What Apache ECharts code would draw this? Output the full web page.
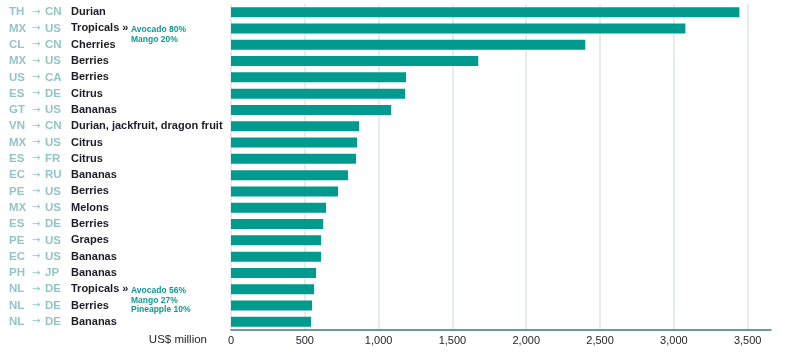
<!DOCTYPE html>
<html>
<head>
<meta charset="utf-8">
<script src="https://cdn.jsdelivr.net/npm/echarts@6/dist/echarts.min.js"></script>
<style>
html,body{margin:0;padding:0;background:#fff;}
#c{width:790px;height:357px;}
</style>
</head>
<body>
<div id="c"></div>
<script>
const origins = ['TH','MX','CL','MX','US','ES','GT','VN','MX','ES','EC','PE','MX','ES','PE','EC','PH','NL','NL','NL'];
const destinations = ['CN','US','CN','US','CA','DE','US','CN','US','FR','RU','US','US','DE','US','US','JP','DE','DE','DE'];
const products = ['Durian','Tropicals','Cherries','Berries','Berries','Citrus','Bananas','Durian, jackfruit, dragon fruit','Citrus','Citrus','Bananas','Berries','Melons','Berries','Grapes','Bananas','Bananas','Tropicals','Berries','Bananas'];
const values = [3444,3078,2400,1675,1186,1180,1085,868,854,847,793,725,644,624,610,610,576,563,549,542];
const xTicks = [0,500,1000,1500,2000,2500,3000,3500];
const annotationRows = [1, 17];
const annotationTexts = [['Avocado 80%','Mango 20%'],['Avocado 56%','Mango 27%','Pineapple 10%']];
const axisTitle = 'US$ million';

const categories = origins.map((o,i)=>i);
const FONT = '"Liberation Sans", Arial, Helvetica, sans-serif';
const chart = echarts.init(document.getElementById('c'), null, {renderer:'canvas'});
const option = {
  animation:false,
  backgroundColor:'#ffffff',
  grid:{left:231, right:19, top:4, bottom:27, containLabel:false},
  xAxis:{
    type:'value', min:0, max:3658, interval:500,
    axisLine:{show:true, lineStyle:{color:'#3d7a78', width:1.5}},
    axisTick:{show:false},
    axisLabel:{showMaxLabel:false, color:'#1e1e2a', fontSize:11, fontFamily:FONT, margin:5,
      formatter:v=> xTicks.includes(v) ? v.toLocaleString('en-US') : ''},
    splitLine:{show:true, showMaxLine:false, lineStyle:{color:'#dfe7e7', width:1.5}}
  },
  yAxis:{
    type:'category', inverse:true, data:categories,
    axisLine:{show:false}, axisTick:{show:false},
    axisLabel:{
      align:'left', margin:222, fontFamily:FONT, interval:0,
      formatter:(v,i)=>{
        let s = '{code|'+origins[i]+'}{arr|→}{code|'+destinations[i]+'}{prod|'+products[i]+'}';
        if (annotationRows.includes(i)) s += '{mark| »}';
        return s;
      },
      rich:{
        code:{color:'#93c5c7', fontSize:11.5, fontWeight:'bold', fontFamily:FONT, width:23},
        arr:{color:'#93c5c7', fontSize:10, fontFamily:'"DejaVu Sans", sans-serif', width:13},
        prod:{color:'#1c1c28', fontSize:11, fontWeight:'bold', fontFamily:FONT, padding:[0,0,0,3]},
        mark:{color:'#1c1c28', fontSize:11, fontWeight:'bold', fontFamily:FONT}
      }
    }
  },
  series:[{
    type:'bar', data:values, barWidth:10,
    itemStyle:{color:'#009a8f'}
  }]
};
chart.setOption(option);

const graphics = [{
  type:'text', right: 790-207, top: 334,
  style:{text:axisTitle, fill:'#1e1e2a', font:'11.5px '+FONT, textAlign:'right'}
}];
annotationRows.forEach((row,k)=>{
  const y = chart.convertToPixel({yAxisIndex:0}, row);
  const lines = annotationTexts[k];
  lines.forEach((t,j)=>{
    graphics.push({type:'text', left:131, top: y - 3 + j*9.5,
      style:{text:t, fill:'#0e9a90', font:'bold 8.5px '+FONT, textVerticalAlign:'top'}});
  });
});
chart.setOption({graphic:graphics});
</script>
</body>
</html>
